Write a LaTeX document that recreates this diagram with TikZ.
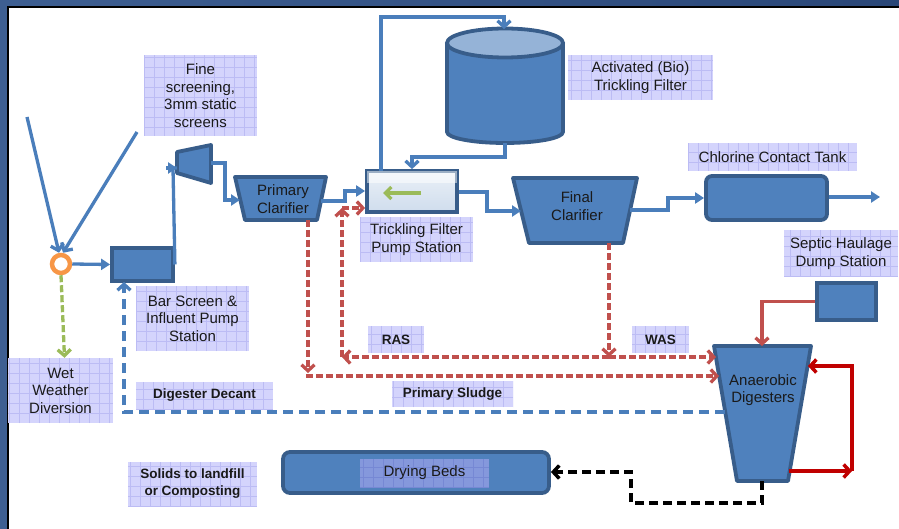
\documentclass[tikz,border=0pt]{standalone}
\usepackage{fontspec}
\setmainfont{Liberation Sans}
\usetikzlibrary{arrows.meta,calc}
\definecolor{fillblue}{HTML}{4F81BD}
\definecolor{edgeblue}{HTML}{385D8A}
\definecolor{lineblue}{HTML}{4A7EBB}
\definecolor{topblue}{HTML}{95B3D7}
\definecolor{reddash}{HTML}{C0504D}
\definecolor{darkred}{HTML}{C00000}
\definecolor{orng}{HTML}{F79646}
\definecolor{grn}{HTML}{9BBB59}
\definecolor{lav}{HTML}{D4D4FC}
\definecolor{lavgrid}{HTML}{BCBCF4}
\definecolor{lavdark}{HTML}{8598DC}
\definecolor{lavdarkgrid}{HTML}{7688D4}
\definecolor{framea}{HTML}{2A4778}
\definecolor{frameb}{HTML}{3E5F92}
\definecolor{txt}{HTML}{1A1A1A}
\tikzset{
  lblfont/.style={font=\fontsize{15pt}{17.5pt}\selectfont},
  boldfont/.style={font=\fontsize{13.5pt}{17pt}\selectfont\bfseries},
  lbl/.style={fill=lav, inner sep=0pt, align=center, text=txt, lblfont,
    path picture={\draw[lavgrid, line width=0.6pt, step=10pt]
      (path picture bounding box.south west) grid (path picture bounding box.north east);}},
  unitbox/.style={draw=edgeblue, fill=fillblue, line width=3.8pt, inner sep=0pt},
  unitshape/.style={draw=edgeblue, fill=fillblue, line width=3.8pt, line join=round},
  intext/.style={align=center, text=txt, lblfont, inner sep=0pt},
  bl/.style={draw=lineblue, line width=3.3pt},
  fa/.style={-{Triangle[length=9pt,width=11pt]}},
  oa/.style={-{Straight Barb[length=6pt,width=13pt]}},
  rd/.style={draw=reddash, line width=3.3pt, dash pattern=on 7pt off 3pt},
  bd/.style={draw=lineblue, line width=3.3pt, dash pattern=on 10pt off 6pt},
  gd/.style={draw=grn, line width=3.3pt, dash pattern=on 7pt off 3pt},
  kd/.style={draw=black, line width=3.5pt, dash pattern=on 9pt off 5pt},
  dr/.style={draw=darkred, line width=3.5pt},
}
\begin{document}
\begin{tikzpicture}[x=1pt,y=-1pt]
\useasboundingbox (0,0) rectangle (899,529);
% frame
\shade[left color=frameb, right color=framea] (0,0) rectangle (899,529);
\fill[white] (8,7) rectangle (899,529);
\draw[black, line width=1.5pt] (8,529) -- (8,7) -- (899,7);

% ---------- units ----------
% cylinder (trickling filter)
\filldraw[fill=fillblue, draw=edgeblue, line width=3.8pt, line join=round]
  (447,43) -- (447,132) arc[start angle=180, end angle=360, x radius=58pt, y radius=11pt] -- (563,43) -- cycle;
\filldraw[fill=topblue, draw=edgeblue, line width=3.8pt] (505,43) ellipse [x radius=58pt, y radius=14.5pt];
\coordinate (cylT) at (504,29);
\coordinate (cylB) at (505,143);

% fine screen
\filldraw[unitshape] (177,152) -- (211,145) -- (211,183) -- (177,173) -- cycle;
\coordinate (fsL) at (177,168);
\coordinate (fsR) at (211,163);

% primary clarifier
\filldraw[unitshape] (235,177) -- (326,177) -- (317,220) -- (245,220) -- cycle;
\node[intext] (pc) at (283,199) {Primary\\Clarifier};
\coordinate (pcL) at (240,200);
\coordinate (pcR) at (321,201);
\coordinate (pcB) at (308,220);

% final clarifier
\filldraw[unitshape] (513,178) -- (637,178) -- (623,243) -- (529,243) -- cycle;
\node[intext] (fc) at (577,206) {Final\\Clarifier};
\coordinate (fcL) at (521,211);
\coordinate (fcR) at (630,210);
\coordinate (fcB) at (609,243);

% anaerobic digesters
\filldraw[unitshape] (714,346) -- (811,346) -- (788,481) -- (737,481) -- cycle;
\node[intext] (dig) at (763,390) {Anaerobic\\Digesters};
\coordinate (digT) at (762,346);
\coordinate (digL1) at (716,357);
\coordinate (digL2) at (719,376);
\coordinate (digL3) at (725,412);
\coordinate (digR1) at (789,471);
\coordinate (digR2) at (808,366);
\coordinate (digB) at (762,481);

% boxes
\node[unitbox, minimum width=61pt, minimum height=33pt] (bar) at (142.5,264.5) {};
\node[draw=edgeblue, line width=3.8pt, inner sep=0pt, minimum width=90pt, minimum height=41pt,
      top color=white!80!topblue, bottom color=topblue!45!white] (tfps) at (412,191.5) {};
\fill[white, opacity=0.5] ($(tfps.north west)+(2,2)$) rectangle ($(tfps.north east)+(-2,14)$);
\draw[grn, line width=3.3pt, -{Straight Barb[length=6pt,width=12pt]}] (421,193) -- (383,193);
\node[unitbox, rounded corners=6pt, minimum width=121pt, minimum height=44pt] (ccl) at (766.5,198) {};
\node[unitbox, minimum width=59pt, minimum height=37pt] (sept) at (846.5,301.5) {};
\node[unitbox, rounded corners=7pt, minimum width=266pt, minimum height=41pt] (dry) at (416,472.5) {};

% junction
\node[circle, draw=orng, fill=white, line width=4.5pt, minimum size=18pt, inner sep=0pt] (jn) at (61,264) {};

% ---------- labels ----------
\node[lbl, minimum width=113pt, minimum height=81pt] (lfine) at (200.5,95.5) {Fine\\screening,\\3mm static\\screens};
\node[lbl, minimum width=145pt, minimum height=45pt] (lact) at (640.5,77.5) {Activated (Bio)\\Trickling Filter};
\node[lbl, minimum width=113pt, minimum height=45pt] (ltfps) at (416.5,239.5) {Trickling Filter\\Pump Station};
\node[lbl, minimum width=169pt, minimum height=28pt] (lccl) at (772.5,157) {Chlorine Contact Tank};
\node[lbl, minimum width=114pt, minimum height=47pt] (lsept) at (841,253.5) {Septic Haulage\\Dump Station};
\node[lbl, minimum width=113pt, minimum height=65pt] (lbar) at (192.5,318.5) {Bar Screen \&\\Influent Pump\\Station};
\node[lbl, minimum width=105pt, minimum height=65pt] (lwet) at (60.5,390.5) {Wet\\Weather\\Diversion};
\node[lbl, boldfont, minimum width=137pt, minimum height=27pt] (ldec) at (204.5,395.5) {Digester Decant};
\node[lbl, boldfont, minimum width=129pt, minimum height=44pt] (lsol) at (192.5,484) {Solids to landfill\\or Composting};
\node[lbl, boldfont, minimum width=56pt, minimum height=27pt] (lras) at (396,339.5) {RAS};
\node[lbl, boldfont, minimum width=121pt, minimum height=26pt] (lps) at (452.5,394) {Primary Sludge};
\node[lbl, boldfont, minimum width=57pt, minimum height=27pt] (lwas) at (660.5,339.5) {WAS};
\node[lbl, fill=lavdark, minimum width=129pt, minimum height=28pt,
      path picture={\draw[lavdarkgrid, line width=0.6pt, step=10pt]
      (path picture bounding box.south west) grid (path picture bounding box.north east);}]
      (ldry) at (424.5,473) {Drying Beds};

% ---------- connectors ----------
\coordinate (in1) at (27,117);
\coordinate (in2) at (137,132);
\draw[bl, oa] (in1) -- ($(jn.north)+(-2,0)$);
\draw[bl, oa] (in2) -- ($(jn.north)+(2,0)$);
\draw[bl, fa] (jn.east) -- (bar.west);
\draw[bl] (bar.east) -- (173,168) -- (fsL);
\draw[bl, fa] (166,168) -- (fsL);
\draw[bl, fa] (fsR) -- (225,163) -- (225,200) -- (pcL);
\draw[bl, fa] (pcR) -- (345,201) -- (345,191) -- (tfps.west |- 0,191);
\draw[bl, fa] (tfps.east |- 0,192) -- (487,192) -- (487,211) -- (fcL);
\draw[bl, fa] (fcR) -- (668,210) -- (668,198) -- (ccl.west);
\coordinate (out) at (880,197);
\draw[bl, fa] (ccl.east |- out) -- (out);
\draw[bl, oa] (381,171) -- (381,17) -| (cylT);
\draw[bl, oa] (cylB) -- (505,157) -| (tfps.north);

% wet weather
\draw[gd, oa] (jn.south) -- ($(lwet.north)+(4,0)$);
% digester decant
\draw[bd, oa] (digL3) -- (124,412) -- (124,282);

% primary sludge
\draw[rd, oa] (pcB) -- (308,373);
\draw[rd, oa] (306,376) -- (digL2);
% WAS / RAS
\coordinate (was) at (609,357);
\draw[rd, oa] (fcB) -- (was);
\draw[rd, oa] (was) -- (digL1);
\draw[rd, oa] (was) -- (342,357);
\draw[rd, oa] (342,357) -- (342,208);
\draw[rd, oa] (342,208) -- (tfps.west |- 0,208);

% septic haulage
\draw[draw=reddash, line width=3.3pt, oa] (sept.west) -| (digT);
% digester recirculation
\coordinate (rc) at (852,471);
\draw[dr, oa] (digR1) -- (rc);
\draw[dr, oa] (rc) |- (digR2);
% to drying beds
\draw[kd, oa] (digB) -- (762,503) -| (631,472) -- (dry.east |- 0,472);
\end{tikzpicture}
\end{document}
